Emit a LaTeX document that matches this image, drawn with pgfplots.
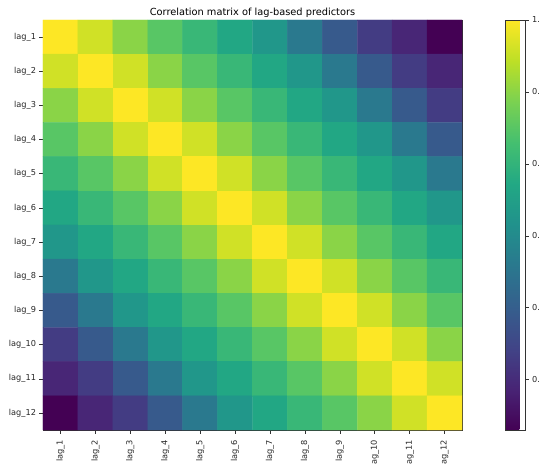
\documentclass[border=0pt]{standalone}
\usepackage{fontspec}
\setmainfont{DejaVu Sans}
\usepackage{pgfplots}
\usepackage{pgfplotstable}
\pgfplotsset{compat=1.18}
\pgfplotsset{/pgf/number format/assume math mode=true}
\pgfplotstableread{
x y C
1 12 1.00
2 12 0.96
3 12 0.90
4 12 0.85
5 12 0.81
6 12 0.77
7 12 0.73
8 12 0.66
9 12 0.59
10 12 0.53
11 12 0.49
12 12 0.43
1 11 0.96
2 11 1.00
3 11 0.96
4 11 0.90
5 11 0.85
6 11 0.81
7 11 0.77
8 11 0.73
9 11 0.66
10 11 0.59
11 11 0.53
12 11 0.49
1 10 0.90
2 10 0.96
3 10 1.00
4 10 0.96
5 10 0.90
6 10 0.85
7 10 0.81
8 10 0.77
9 10 0.73
10 10 0.66
11 10 0.59
12 10 0.53
1 9 0.85
2 9 0.90
3 9 0.96
4 9 1.00
5 9 0.96
6 9 0.90
7 9 0.85
8 9 0.81
9 9 0.77
10 9 0.73
11 9 0.66
12 9 0.59
1 8 0.81
2 8 0.85
3 8 0.90
4 8 0.96
5 8 1.00
6 8 0.96
7 8 0.90
8 8 0.85
9 8 0.81
10 8 0.77
11 8 0.73
12 8 0.66
1 7 0.77
2 7 0.81
3 7 0.85
4 7 0.90
5 7 0.96
6 7 1.00
7 7 0.96
8 7 0.90
9 7 0.85
10 7 0.81
11 7 0.77
12 7 0.73
1 6 0.73
2 6 0.77
3 6 0.81
4 6 0.85
5 6 0.90
6 6 0.96
7 6 1.00
8 6 0.96
9 6 0.90
10 6 0.85
11 6 0.81
12 6 0.77
1 5 0.66
2 5 0.73
3 5 0.77
4 5 0.81
5 5 0.85
6 5 0.90
7 5 0.96
8 5 1.00
9 5 0.96
10 5 0.90
11 5 0.85
12 5 0.81
1 4 0.59
2 4 0.66
3 4 0.73
4 4 0.77
5 4 0.81
6 4 0.85
7 4 0.90
8 4 0.96
9 4 1.00
10 4 0.96
11 4 0.90
12 4 0.85
1 3 0.53
2 3 0.59
3 3 0.66
4 3 0.73
5 3 0.77
6 3 0.81
7 3 0.85
8 3 0.90
9 3 0.96
10 3 1.00
11 3 0.96
12 3 0.90
1 2 0.49
2 2 0.53
3 2 0.59
4 2 0.66
5 2 0.73
6 2 0.77
7 2 0.81
8 2 0.85
9 2 0.90
10 2 0.96
11 2 1.00
12 2 0.96
1 1 0.43
2 1 0.49
3 1 0.53
4 1 0.59
5 1 0.66
6 1 0.73
7 1 0.77
8 1 0.81
9 1 0.85
10 1 0.90
11 1 0.96
12 1 1.00
}\corrtable
\pgfplotsset{colormap={mplviridis}{
  rgb255=(68,1,84) rgb255=(72,36,117) rgb255=(65,68,135) rgb255=(53,95,141)
  rgb255=(42,120,142) rgb255=(33,145,140) rgb255=(34,168,132) rgb255=(68,191,112)
  rgb255=(122,209,81) rgb255=(189,223,38) rgb255=(253,231,37)}}
\begin{document}
\begin{tikzpicture}
\begin{axis}[
  name=main,
  width=419pt, height=410pt, scale only axis,
  xmin=0.5, xmax=12.5, ymin=0.5, ymax=12.5,
  enlargelimits=false,
  xtick={1,...,12}, ytick={1,...,12},
  xticklabels={lag\_1,lag\_2,lag\_3,lag\_4,lag\_5,lag\_6,lag\_7,lag\_8,lag\_9,lag\_10,lag\_11,lag\_12},
  yticklabels={lag\_12,lag\_11,lag\_10,lag\_9,lag\_8,lag\_7,lag\_6,lag\_5,lag\_4,lag\_3,lag\_2,lag\_1},
  xticklabel style={rotate=90, anchor=east, font=\fontsize{8.2}{9}\selectfont, text=black!85},
  xticklabel shift=3pt,
  yticklabel style={font=\fontsize{8.2}{9}\selectfont, text=black!85},
  tick align=outside, xtick pos=bottom, ytick pos=left,
  major tick length=3.5pt,
  tick style={line width=0.5pt, black!80},
  axis line style={line width=0.5pt, black!80},
  title={Correlation matrix of lag-based predictors},
  title style={font=\fontsize{9.8}{11}\selectfont, yshift=-7pt},
  colormap name=mplviridis,
  point meta min=0.43, point meta max=1.0,
  colorbar,
  colorbar style={
    at={(parent axis.north east)}, anchor=north west, xshift=34.5pt,
    width=20pt,
    ytick={0.5,0.6,0.7,0.8,0.9,1.0},
    yticklabel style={/pgf/number format/.cd, fixed, fixed zerofill, precision=1, /tikz/font=\fontsize{8.2}{9}\selectfont, /tikz/text=black!85},
    tick align=outside, major tick length=3.5pt,
    ytick pos=right, yticklabel pos=right,
    tick style={line width=0.5pt, black!80},
    axis line style={line width=0.5pt, black!80},
  },
]
\addplot[matrix plot*, mesh/cols=12, point meta=explicit] table[meta=C] {\corrtable};
\end{axis}
\pgfresetboundingbox
\path[use as bounding box] ([xshift=-43pt,yshift=20pt]main.north west) rectangle ([xshift=78pt,yshift=-33pt]main.south east);
\end{tikzpicture}
\end{document}
